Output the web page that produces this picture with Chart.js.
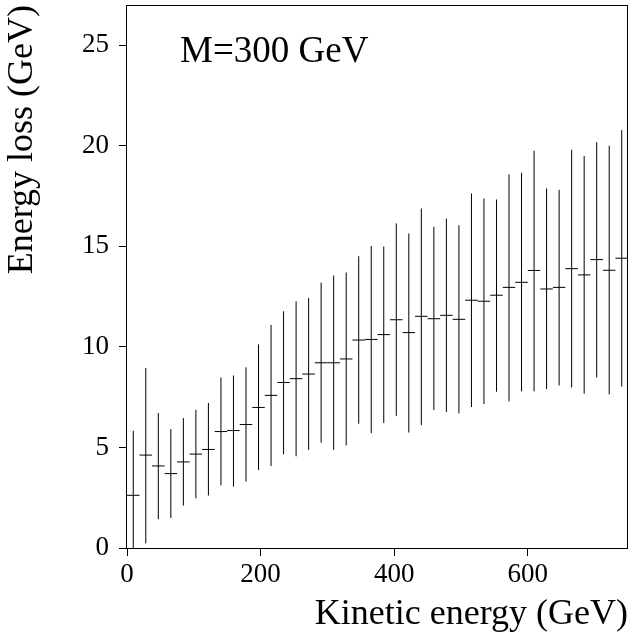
<!DOCTYPE html>
<html>
<head>
<meta charset="utf-8">
<script src="https://cdn.jsdelivr.net/npm/chart.js@4"></script>
<style>
  html, body { margin: 0; padding: 0; background: #fff; }
  canvas { display: block; }
</style>
</head>
<body>
<canvas id="myChart" width="629" height="637"></canvas>
<script>
// bin centres (GeV), bin width 18.75 GeV
const kineticEnergy = [9.375, 28.125, 46.875, 65.625, 84.375, 103.125, 121.875, 140.625, 159.375, 178.125,
    196.875, 215.625, 234.375, 253.125, 271.875, 290.625, 309.375, 328.125, 346.875, 365.625,
    384.375, 403.125, 421.875, 440.625, 459.375, 478.125, 496.875, 515.625, 534.375, 553.125,
    571.875, 590.625, 609.375, 628.125, 646.875, 665.625, 684.375, 703.125, 721.875, 740.625];
const energyLoss = [2.62, 4.62, 4.08, 3.70, 4.28, 4.67, 4.90, 5.79, 5.84, 6.14,
    6.99, 7.59, 8.23, 8.42, 8.65, 9.21, 9.21, 9.40, 10.34, 10.37,
    10.61, 11.35, 10.71, 11.52, 11.40, 11.57, 11.37, 12.32, 12.27, 12.57,
    12.96, 13.21, 13.80, 12.88, 12.96, 13.89, 13.58, 14.34, 13.81, 14.41];
const errHigh = [5.83, 8.95, 6.71, 5.91, 6.46, 6.87, 7.21, 8.48, 8.58, 8.98,
    10.12, 11.09, 11.77, 12.27, 12.43, 13.20, 13.55, 13.70, 14.51, 15.02,
    14.99, 16.14, 15.64, 16.88, 15.97, 16.38, 16.05, 17.63, 17.38, 17.33,
    18.58, 18.66, 19.75, 17.88, 17.81, 19.80, 19.49, 20.18, 20.00, 20.78];
const errLow = [-0.6, 0.23, 1.43, 1.49, 2.11, 2.47, 2.61, 3.12, 3.05, 3.30,
    3.88, 4.08, 4.66, 4.56, 4.88, 5.23, 4.88, 5.10, 6.18, 5.71,
    6.22, 6.57, 5.74, 6.11, 6.86, 6.76, 6.69, 7.01, 7.16, 7.77,
    7.29, 7.79, 7.79, 7.90, 8.08, 7.98, 7.67, 8.48, 7.64, 8.03];
const xTicks = [0, 200, 400, 600];
const yTicks = [0, 5, 10, 15, 20, 25];

const serif = "'Liberation Serif', 'DejaVu Serif', serif";

// no extra label padding, keep the plot box fixed
function fixBox(s, size) {
    if (s.isHorizontal()) s.height = size; else s.width = size;
    s.paddingLeft = 0;
    s.paddingRight = 0;
    s.paddingTop = 0;
    s.paddingBottom = 0;
}

// vertical error bars + box frame + label
const errorBars = {
    id: 'errorBars',
    afterDatasetsDraw(chart) {
        const c = chart.ctx;
        const area = chart.chartArea;
        const xs = chart.scales.x, ys = chart.scales.y;
        c.save();
        c.beginPath();
        c.rect(area.left, area.top, area.right - area.left, area.bottom - area.top);
        c.clip();
        c.strokeStyle = '#000';
        c.lineWidth = 1;
        for (let i = 0; i < kineticEnergy.length; i++) {
            let px = xs.getPixelForValue(kineticEnergy[i]);
            c.beginPath();
            c.moveTo(px, ys.getPixelForValue(errLow[i]));
            c.lineTo(px, ys.getPixelForValue(errHigh[i]));
            c.stroke();
        }
        c.restore();

        c.save();
        c.strokeStyle = '#000';
        c.lineWidth = 1;
        c.strokeRect(area.left - 0.5, area.top + 0.5, area.right - area.left, area.bottom - area.top);
        c.fillStyle = '#000';
        c.font = '37px ' + serif;
        c.textBaseline = 'middle';
        c.fillText('M=300 GeV', area.left + 53, area.top + 47.5);
        c.restore();
    }
};

const ctx = document.getElementById('myChart');

let ch = new Chart(ctx, {
    type: 'scatter',
    data: {
        datasets: [{
            label: 'Energy loss',
            data: kineticEnergy.map((e, i) => ({x: e, y: energyLoss[i]})),
            pointStyle: 'line',
            radius: 6.25,
            borderColor: '#000',
            borderWidth: 1,
            backgroundColor: '#000',
        }]
    },
    options: {
        responsive: false,
        animation: false,
        layout: {
            autoPadding: false,
            padding: {top: 5, right: 1, left: 0, bottom: 0}
        },
        plugins: {
            legend: {display: false},
            tooltip: {enabled: false},
            title: {display: false},
        },
        scales: {
            x: {
                type: 'linear',
                min: 0,
                max: 750,
                afterBuildTicks: (s) => { s.ticks = xTicks.map(v => ({value: v})); },
                afterFit: (s) => fixBox(s, 89),
                grid: {drawOnChartArea: false, drawTicks: true, tickLength: 8, color: '#000'},
                border: {display: false},
                ticks: {
                    color: '#000',
                    padding: 3,
                    maxRotation: 0,
                    font: {family: serif, size: 27},
                },
                title: {
                    display: true,
                    text: 'Kinetic energy (GeV)',
                    align: 'end',
                    color: '#000',
                    padding: {top: 0, bottom: 1},
                    font: {family: serif, size: 36},
                }
            },
            y: {
                min: 0,
                max: 27,
                afterBuildTicks: (s) => { s.ticks = yTicks.map(v => ({value: v})); },
                afterFit: (s) => fixBox(s, 127),
                grid: {drawOnChartArea: false, drawTicks: true, tickLength: 8, color: '#000'},
                border: {display: false},
                ticks: {
                    color: '#000',
                    padding: 10,
                    font: {family: serif, size: 27},
                },
                title: {
                    display: true,
                    text: 'Energy loss (GeV)',
                    align: 'end',
                    color: '#000',
                    padding: {top: 1, bottom: 0},
                    font: {family: serif, size: 36},
                }
            }
        }
    },
    plugins: [errorBars]
});
</script>
</body>
</html>
